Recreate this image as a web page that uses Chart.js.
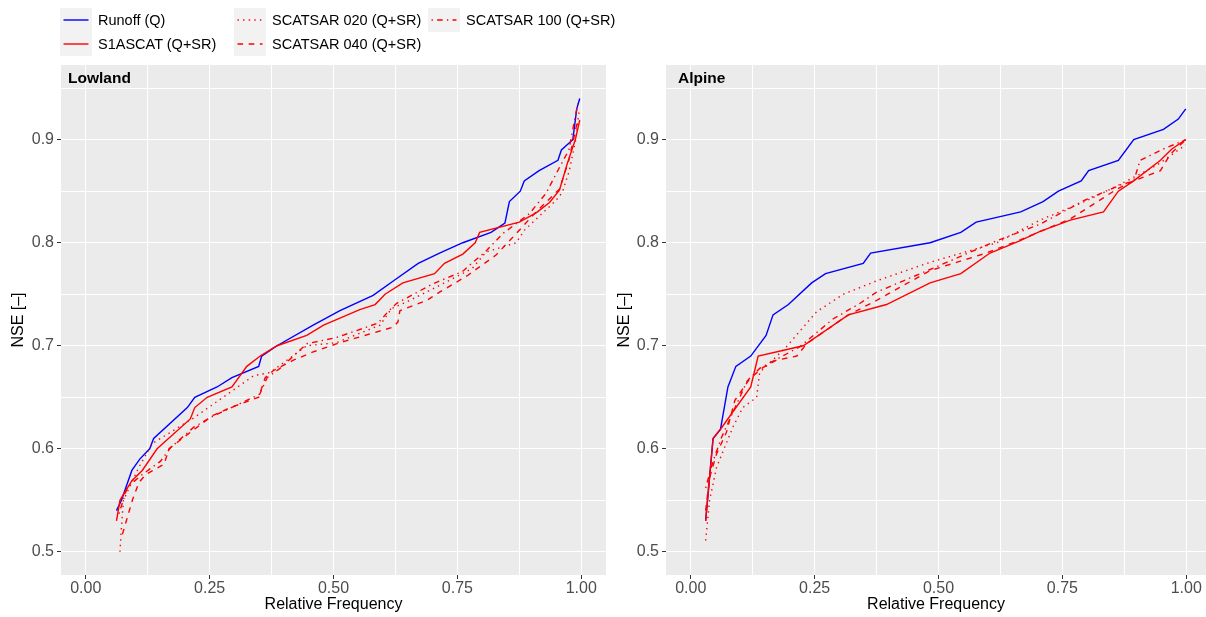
<!DOCTYPE html>
<html>
<head>
<meta charset="utf-8">
<script src="https://cdn.jsdelivr.net/npm/chart.js@4.4.1/dist/chart.umd.min.js"></script>
<style>
  body { margin: 0; background: #fff; font-family: "Liberation Sans", Arial, sans-serif; }
  #wrap { position: relative; width: 1206px; height: 617px; overflow: hidden; }
  canvas { position: absolute; top: 0; }
  .item { position: absolute; height: 24px; display: flex; align-items: center; font-size: 14.5px; color: #000; white-space: nowrap; }
  .item svg { margin-right: 6px; background: #f2f2f2; display: block; }
</style>
</head>
<body>
<div id="wrap">
  <canvas id="lowland" width="606" height="617" style="left:0"></canvas>
  <canvas id="alpine" width="600" height="617" style="left:606px"></canvas>
  <div id="legend"></div>
</div>
<script>
// series names / styles
const seriesNames = ['Runoff (Q)', 'S1ASCAT (Q+SR)', 'SCATSAR 020 (Q+SR)', 'SCATSAR 040 (Q+SR)', 'SCATSAR 100 (Q+SR)'];
const seriesColors = ['#0000ff', '#ff0000', '#ff0000', '#ff0000', '#ff0000'];
const seriesDashes = [[], [], [1.4, 4.2], [5.6, 5.6], [1.4, 4.2, 5.6, 4.2]];
const panelNames = ['Lowland', 'Alpine'];

// [relative frequency, NSE] - Lowland
const lowRunoff = [[0.062,0.540],[0.072,0.550],[0.093,0.579],[0.109,0.590],[0.129,0.600],[0.137,0.610],[0.205,0.640],[0.220,0.650],[0.265,0.660],[0.295,0.669],[0.349,0.680],[0.355,0.690],[0.386,0.700],[0.459,0.720],[0.513,0.734],[0.580,0.749],[0.627,0.765],[0.671,0.780],[0.714,0.790],[0.761,0.800],[0.818,0.810],[0.846,0.819],[0.855,0.840],[0.877,0.850],[0.885,0.860],[0.915,0.870],[0.953,0.880],[0.960,0.890],[0.983,0.900],[0.991,0.930],[0.997,0.940]];
const lowS1 = [[0.062,0.530],[0.069,0.550],[0.093,0.569],[0.114,0.579],[0.144,0.600],[0.211,0.629],[0.220,0.640],[0.245,0.650],[0.295,0.660],[0.325,0.680],[0.352,0.690],[0.386,0.700],[0.446,0.710],[0.480,0.720],[0.553,0.735],[0.584,0.740],[0.604,0.750],[0.640,0.761],[0.704,0.770],[0.724,0.780],[0.761,0.789],[0.786,0.800],[0.795,0.810],[0.875,0.820],[0.909,0.829],[0.936,0.839],[0.956,0.851],[0.972,0.877],[0.988,0.900],[0.997,0.919]];
const low020 = [[0.069,0.500],[0.072,0.524],[0.076,0.550],[0.107,0.582],[0.134,0.605],[0.218,0.630],[0.295,0.656],[0.339,0.671],[0.372,0.674],[0.446,0.700],[0.506,0.703],[0.594,0.720],[0.617,0.736],[0.654,0.744],[0.720,0.760],[0.780,0.775],[0.808,0.791],[0.869,0.800],[0.885,0.812],[0.949,0.841],[0.962,0.849],[0.976,0.870],[0.989,0.900],[0.996,0.929]];
const low040 = [[0.074,0.517],[0.094,0.550],[0.107,0.567],[0.121,0.575],[0.158,0.585],[0.168,0.600],[0.211,0.616],[0.255,0.632],[0.292,0.640],[0.349,0.650],[0.362,0.669],[0.379,0.676],[0.419,0.686],[0.459,0.694],[0.513,0.703],[0.620,0.718],[0.630,0.723],[0.634,0.734],[0.688,0.744],[0.714,0.752],[0.770,0.768],[0.828,0.788],[0.869,0.809],[0.909,0.830],[0.956,0.852],[0.975,0.880],[0.993,0.919]];
const low100 = [[0.067,0.537],[0.084,0.563],[0.114,0.575],[0.151,0.588],[0.171,0.601],[0.218,0.621],[0.258,0.632],[0.312,0.644],[0.351,0.653],[0.366,0.669],[0.392,0.678],[0.446,0.702],[0.506,0.708],[0.590,0.722],[0.610,0.733],[0.627,0.741],[0.700,0.760],[0.760,0.772],[0.808,0.792],[0.842,0.809],[0.895,0.828],[0.929,0.848],[0.956,0.873],[0.975,0.890],[0.993,0.935]];

// [relative frequency, NSE] - Alpine
const alpRunoff = [[0.030,0.530],[0.045,0.610],[0.060,0.619],[0.075,0.660],[0.091,0.680],[0.121,0.690],[0.152,0.710],[0.166,0.730],[0.197,0.740],[0.244,0.761],[0.272,0.770],[0.348,0.780],[0.363,0.790],[0.483,0.800],[0.545,0.810],[0.576,0.820],[0.666,0.830],[0.711,0.840],[0.742,0.850],[0.788,0.860],[0.803,0.870],[0.863,0.880],[0.894,0.900],[0.954,0.910],[0.984,0.920],[0.999,0.930]];
const alpS1 = [[0.030,0.530],[0.045,0.610],[0.060,0.619],[0.121,0.660],[0.136,0.690],[0.227,0.700],[0.318,0.730],[0.395,0.740],[0.483,0.761],[0.545,0.770],[0.604,0.790],[0.665,0.802],[0.705,0.811],[0.766,0.822],[0.833,0.830],[0.863,0.850],[0.894,0.860],[0.948,0.880],[0.971,0.891],[0.999,0.900]];
const alp020 = [[0.030,0.511],[0.038,0.550],[0.052,0.582],[0.085,0.621],[0.105,0.640],[0.133,0.650],[0.139,0.674],[0.193,0.699],[0.254,0.733],[0.308,0.750],[0.375,0.763],[0.483,0.781],[0.618,0.800],[0.705,0.822],[0.800,0.841],[0.860,0.855],[0.940,0.875],[0.999,0.895]];
const alp040 = [[0.030,0.540],[0.038,0.572],[0.052,0.595],[0.072,0.616],[0.089,0.647],[0.119,0.668],[0.146,0.679],[0.173,0.686],[0.214,0.690],[0.234,0.702],[0.261,0.711],[0.315,0.729],[0.375,0.744],[0.483,0.773],[0.590,0.789],[0.651,0.800],[0.766,0.823],[0.860,0.852],[0.894,0.860],[0.948,0.870],[0.968,0.886],[0.999,0.900]];
const alp100 = [[0.030,0.562],[0.045,0.588],[0.062,0.611],[0.114,0.666],[0.139,0.678],[0.220,0.699],[0.287,0.726],[0.341,0.741],[0.375,0.752],[0.483,0.774],[0.618,0.802],[0.705,0.818],[0.794,0.841],[0.867,0.856],[0.894,0.860],[0.907,0.880],[0.954,0.891],[0.999,0.900]];

const FONT = '"Liberation Sans", Arial, sans-serif';

function isMajor(v, step) {
    return Math.abs(v / step - Math.round(v / step)) < 1e-6;
}

// grey panel + facet label
const panelPlugin = {
    id: 'panel',
    beforeDraw(chart, args, opts) {
        const a = chart.chartArea;
        const ctx = chart.ctx;
        ctx.save();
        ctx.fillStyle = '#ebebeb';
        ctx.fillRect(a.left, a.top, a.right - a.left, a.bottom - a.top);
        ctx.restore();
    },
    afterDatasetsDraw(chart, args, opts) {
        const a = chart.chartArea;
        const ctx = chart.ctx;
        ctx.save();
        ctx.font = 'bold 15.5px ' + FONT;
        ctx.fillStyle = '#000';
        ctx.fillText(opts.text, a.left + opts.dx, a.top + 17.7);
        ctx.restore();
    }
};

function makeChart(id, series, panel, dx, xMax, yWidth) {
    const datasets = series.map((pts, i) => ({
        label: seriesNames[i],
        data: pts.map(p => ({x: p[0], y: p[1]})),
        borderColor: seriesColors[i],
        borderDash: seriesDashes[i],
        borderWidth: 1.4,
        borderCapStyle: 'butt',
        pointRadius: 0,
        tension: 0,
        fill: false,
        order: i === 0 ? 1 : 0
    }));

    return new Chart(document.getElementById(id), {
        type: 'line',
        data: { datasets: datasets },
        options: {
            responsive: false,
            animation: false,
            devicePixelRatio: 1,
            events: [],
            layout: { padding: { top: 65, left: 0, right: 0, bottom: 0 } },
            plugins: {
                legend: { display: false },
                tooltip: { enabled: false },
                panel: { text: panel, dx: dx }
            },
            scales: {
                x: {
                    type: 'linear',
                    min: -0.05,
                    max: xMax,
                    border: { display: false },
                    grid: {
                        color: '#ffffff',
                        lineWidth: 1,
                        tickLength: 4,
                        tickColor: c => isMajor(c.tick.value, 0.25) ? '#333333' : 'rgba(0,0,0,0)'
                    },
                    ticks: {
                        stepSize: 0.125,
                        includeBounds: false,
                        autoSkip: false,
                        maxRotation: 0,
                        padding: 0,
                        color: '#4d4d4d',
                        font: { family: FONT, size: 16 },
                        callback: v => isMajor(v, 0.25) ? v.toFixed(2) : ''
                    },
                    title: {
                        display: true,
                        text: 'Relative Frequency',
                        color: '#000',
                        font: { family: FONT, size: 16 },
                        padding: { top: 0, bottom: 3 }
                    },
                    afterFit: s => { s.height = 42; }
                },
                y: {
                    min: 0.4775,
                    max: 0.9725,
                    border: { display: false },
                    grid: {
                        color: '#ffffff',
                        lineWidth: 1,
                        tickLength: 4,
                        tickColor: c => isMajor(c.tick.value, 0.1) ? '#333333' : 'rgba(0,0,0,0)'
                    },
                    ticks: {
                        stepSize: 0.05,
                        includeBounds: false,
                        autoSkip: false,
                        padding: 3,
                        color: '#4d4d4d',
                        font: { family: FONT, size: 16 },
                        callback: v => isMajor(v, 0.1) ? v.toFixed(1) : ''
                    },
                    title: {
                        display: true,
                        text: 'NSE [–]',
                        color: '#000',
                        font: { family: FONT, size: 16 },
                        padding: { top: 9, bottom: 0 }
                    },
                    afterFit: s => { s.width = yWidth; }
                }
            }
        },
        plugins: [panelPlugin]
    });
}

makeChart('lowland', [lowRunoff, lowS1, low020, low040, low100], panelNames[0], 7, 1.05, 61);
makeChart('alpine', [alpRunoff, alpS1, alp020, alp040, alp100], panelNames[1], 12, 1.0399, 60);

// legend: two rows, filled column by column
const legendCols = [60, 234, 428];
const legendRows = [8, 31.8];
const legend = document.getElementById('legend');
seriesNames.forEach((name, i) => {
    const col = Math.floor(i / 2), row = i % 2;
    const item = document.createElement('div');
    item.className = 'item';
    item.style.left = legendCols[col] + 'px';
    item.style.top = legendRows[row] + 'px';
    const dash = seriesDashes[i].length ? seriesDashes[i].join(' ') : 'none';
    item.innerHTML =
        '<svg width="32" height="24"><line x1="3.5" y1="12" x2="28.5" y2="12" stroke="' + seriesColors[i] +
        '" stroke-width="1.4" stroke-dasharray="' + dash + '"/></svg><span>' + name + '</span>';
    legend.appendChild(item);
});
</script>
</body>
</html>
